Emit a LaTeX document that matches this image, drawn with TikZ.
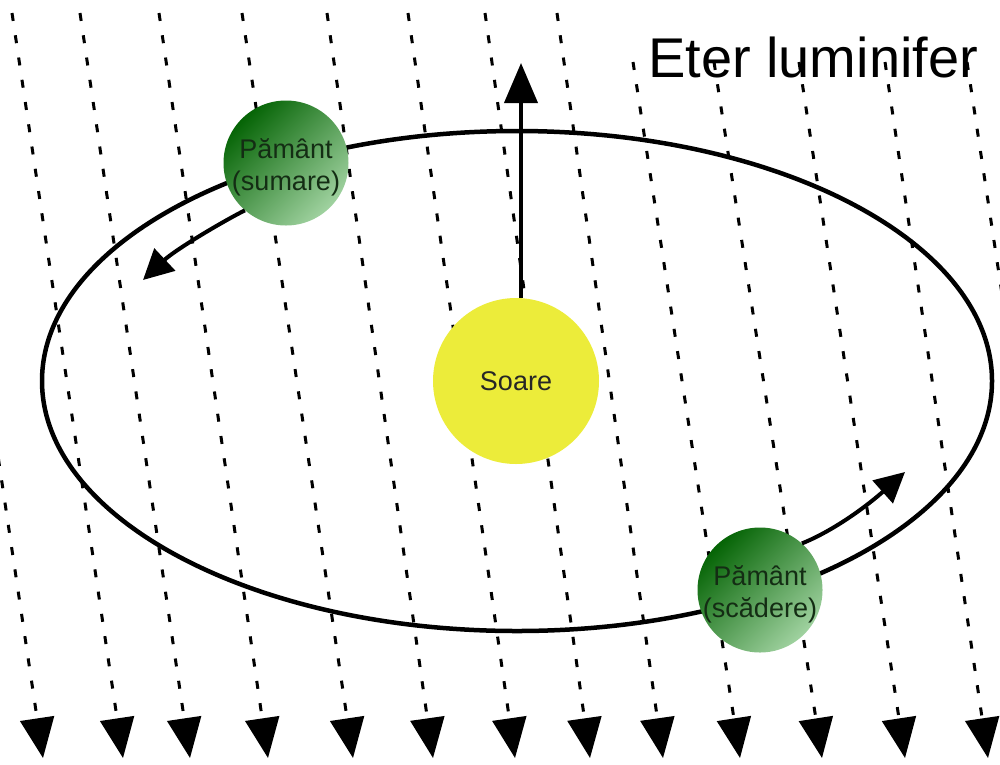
\documentclass[tikz,border=0pt]{standalone}
\usepackage{fontspec}
\setmainfont{Liberation Sans}
\usepackage{xcolor}
\usepackage{tikz}
\usetikzlibrary{arrows.meta}

\definecolor{sunyellow}{RGB}{236,236,58}
\definecolor{earthdark}{RGB}{5,100,5}
\definecolor{earthmid}{RGB}{40,140,40}
\definecolor{earthlight}{RGB}{160,210,160}
\definecolor{labelgreen}{RGB}{20,45,20}

\begin{document}
\begin{tikzpicture}[
  x=1pt, y=-1pt,
  ether/.style={line width=3pt, dash pattern=on 8pt off 14.5pt, -{Triangle[length=40pt, width=34pt]}},
  orbit/.style={line width=4.5pt},
  motion/.style={line width=4pt, -{Triangle[length=30pt, width=30pt]}},
  velocity/.style={line width=4pt, -{Triangle[length=40pt, width=33pt]}},
  earthball/.style={circle, minimum size=125pt, inner sep=0pt, top color=earthdark, middle color=earthmid, bottom color=earthlight, shading angle=45},
  earthlabel/.style={align=center, inner sep=0pt, yshift=-4pt, font=\fontsize{27}{32}\selectfont, text=labelgreen},
  sunball/.style={circle, minimum size=166pt, inner sep=0pt, fill=sunyellow, text=black!85, font=\fontsize{27}{32}\selectfont}
]
\useasboundingbox (0,0) rectangle (1000,764);
\begin{scope}
  \clip (0,0) rectangle (1000,764);
  \foreach \xa/\ya/\xb in {-68/13/43, 12/13/123, 80/13/190, 159/13/268, 242/13/353, 327/13/433,
                          408/13/515, 485/13/590, 557/13/663, 633/62/740, 714/62/822, 799/62/905,
                          885/62/988, 967/62/1072}
    \draw[ether] (\xa,\ya) -- (\xb,758);
\end{scope}

\draw[orbit] (517,381) ellipse [x radius=475, y radius=250];

\node[sunball] (soare) at (516,381) {Soare};
\node[earthball] (sumare) at (286,163) {};
\node[earthlabel] (sumaretext) at (sumare) {Pământ\\(sumare)};
\node[earthball] (scadere) at (760,590) {};
\node[earthlabel] (scaderetext) at (scadere) {Pământ\\(scădere)};
\node[anchor=base west, inner sep=0pt, font=\fontsize{56}{60}\selectfont] (eter) at (648,77) {Eter luminifer};

\coordinate (sus) at (521,63);
\coordinate (spre1) at (143,280);
\coordinate (spre2) at (905,472);

\draw[velocity] (sus |- soare.north) -- (sus);
\draw[motion] (sumare.229) .. controls (220,223) and (175,250) .. (spre1);
\draw[motion] (scadere.48) .. controls (835,530) and (868,505) .. (spre2);
\end{tikzpicture}
\end{document}
